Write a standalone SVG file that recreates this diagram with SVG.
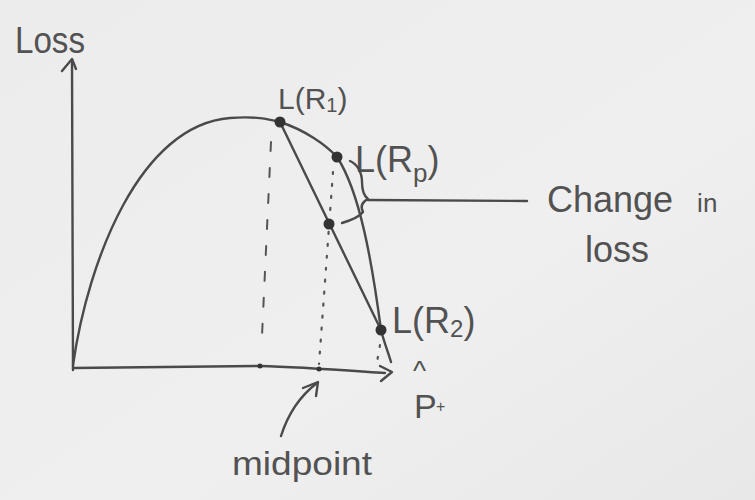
<svg xmlns="http://www.w3.org/2000/svg" width="755" height="500" viewBox="0 0 755 500">
<defs>
<linearGradient id="bg" x1="0" y1="0" x2="1" y2="1">
<stop offset="0" stop-color="#ececec"/>
<stop offset="0.6" stop-color="#efefef"/>
<stop offset="1" stop-color="#e8e8e8"/>
</linearGradient>
<style>
.ln{fill:none;stroke:#4a4a4a;stroke-width:2.4;stroke-linecap:round;stroke-linejoin:round}
.dash{fill:none;stroke:#555;stroke-width:2;stroke-dasharray:9 17;stroke-linecap:round}
.dot{fill:none;stroke:#555;stroke-width:2.2;stroke-dasharray:2 10;stroke-linecap:round}
.pt{fill:#333}
.t{font-family:"Liberation Sans","DejaVu Sans",sans-serif;fill:#525252}
</style>
</defs>
<rect width="755" height="500" fill="url(#bg)"/>

<g id="axes">
<path class="ln" d="M73,370 L72,60"/>
<path class="ln" d="M62,71 L72,59 L76,69"/>
<path class="ln" d="M73,368 L260,366 C300,367 340,370 385,373"/>
<path class="ln" d="M380,366 L392,372 L381,381"/>
<circle class="pt" cx="260" cy="366" r="2.5"/>
<circle class="pt" cx="319" cy="369" r="2.5"/>
</g>

<g id="curve">
<path class="ln" d="M73,365 C88,260 140,125 230,118 C255,116 268,119 280,122 C305,130 326,145 337,157 C360,192 372,262 381,330 C384,342 388,352 391,362"/>
</g>

<g id="chord">
<path class="ln" d="M280,122 L381,330"/>
</g>

<g id="guides">
<path class="dash" d="M271,142 L262,336"/>
<path class="dot" d="M333,172 L319,364"/>
<path class="dot" d="M380,345 L377,362"/>
</g>

<g id="point-R1"><circle class="pt" cx="280" cy="122" r="5.5"/></g>
<g id="point-Rp"><circle class="pt" cx="337" cy="157" r="5.5"/></g>
<g id="point-mid"><circle class="pt" cx="329" cy="224" r="5.5"/></g>
<g id="point-R2"><circle class="pt" cx="381" cy="330" r="5.5"/></g>

<g id="label-loss-axis"><text class="t" x="15" y="53" font-size="36" textLength="70" lengthAdjust="spacingAndGlyphs">Loss</text></g>
<g id="label-R1"><text class="t" x="278" y="109" font-size="30">L(R<tspan font-size="20" dy="3">1</tspan><tspan dy="-3">)</tspan></text></g>
<g id="label-Rp"><text class="t" x="355" y="172" font-size="36">L(R<tspan font-size="26" dy="10">p</tspan><tspan dy="-10">)</tspan></text></g>
<g id="label-R2"><text class="t" x="392" y="333" font-size="36">L(R<tspan font-size="24" dy="4">2</tspan><tspan dy="-4">)</tspan></text></g>
<g id="label-phat">
<text class="t" x="413" y="380" font-size="28">^</text>
<text class="t" x="414" y="418" font-size="34">P</text>
<text class="t" x="436" y="412" font-size="16">+</text>
</g>
<g id="label-change"><text class="t" x="547" y="212" font-size="36">Change <tspan font-size="26" dx="14">in</tspan></text>
<text class="t" x="585" y="262" font-size="36">loss</text></g>
<g id="label-midpoint"><text class="t" x="232" y="475" font-size="34" textLength="140" lengthAdjust="spacingAndGlyphs">midpoint</text></g>

<g id="connectors">
<path class="ln" d="M350,161 C357,164 362,172 362,182 C362,190 364,196 368,199 C362,202 360,206 363,212 C360,216 352,220 342,223"/>
<path class="ln" d="M368,200 L527,201"/>
<path class="ln" d="M281,436 C288,414 300,396 317,383"/>
<path class="ln" d="M303,388 L318,382 L316,396"/>
</g>
</svg>
